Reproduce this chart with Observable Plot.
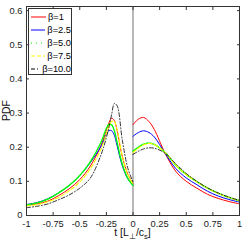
<!DOCTYPE html>
<html>
<head>
<meta charset="utf-8">
<script src="https://cdn.jsdelivr.net/npm/d3@7"></script>
<script src="https://cdn.jsdelivr.net/npm/@observablehq/plot@0.6"></script>
<style>
  html, body { margin: 0; padding: 0; background: #fff; }
  #wrap { position: relative; width: 245px; height: 245px; font-family: "Liberation Sans", Arial, sans-serif; }
  #legend { position: absolute; left: 28px; top: 8px; width: 44px; height: 67px; border: 1px solid #333; background: #fff; box-sizing: border-box; font-size: 9.3px; padding-top: 2px; }
  .row { display: flex; align-items: center; height: 12.8px; }
  .row svg { margin-left: 2px; margin-right: 2px; }
</style>
</head>
<body>
<div id="wrap"><div id="legend"></div></div>
<script>
const series = ["β=1", "β=2.5", "β=5.0", "β=7.5", "β=10.0"];
const colors = ["#ff0000", "#0000ff", "#00ff00", "#ffff00", "#000000"];
const dashes = ["none", "none", "1.5,0.8", "4,2", "4,2,1,2"];
const legendDashes = ["none", "none", "1,4", "4,2", "4,2,1,2"];

const tLeft = [-1, -0.9, -0.8, -0.7, -0.6, -0.5, -0.4, -0.3, -0.25, -0.225, -0.2, -0.175, -0.15, -0.1, -0.05, 0];
const leftB1   = [0.030, 0.034, 0.042, 0.058, 0.078, 0.105, 0.145, 0.205, 0.250, 0.272, 0.285, 0.278, 0.250, 0.172, 0.122, 0.093];
const leftB25  = [0.032, 0.038, 0.049, 0.066, 0.088, 0.117, 0.155, 0.203, 0.238, 0.249, 0.248, 0.235, 0.205, 0.145, 0.108, 0.088];
const leftB5   = [0.031, 0.037, 0.048, 0.066, 0.088, 0.117, 0.158, 0.215, 0.255, 0.267, 0.265, 0.248, 0.215, 0.150, 0.110, 0.088];
const leftB75  = [0.028, 0.032, 0.040, 0.053, 0.072, 0.098, 0.137, 0.195, 0.238, 0.260, 0.276, 0.275, 0.252, 0.175, 0.122, 0.092];
const leftB10  = [0.023, 0.027, 0.034, 0.046, 0.060, 0.080, 0.110, 0.178, 0.228, 0.260, 0.297, 0.328, 0.322, 0.220, 0.140, 0.098];

const tRight = [0, 0.05, 0.1, 0.15, 0.2, 0.3, 0.4, 0.5, 0.6, 0.7, 0.8, 0.9, 1];
const rightB1  = [0.266, 0.282, 0.287, 0.275, 0.252, 0.183, 0.130, 0.100, 0.080, 0.062, 0.050, 0.041, 0.034];
const rightB25 = [0.232, 0.243, 0.248, 0.243, 0.230, 0.183, 0.138, 0.110, 0.090, 0.071, 0.057, 0.047, 0.039];
const rightB5  = [0.188, 0.200, 0.209, 0.212, 0.208, 0.185, 0.148, 0.120, 0.099, 0.080, 0.065, 0.053, 0.043];
const rightB75 = [0.184, 0.197, 0.207, 0.211, 0.208, 0.185, 0.148, 0.120, 0.099, 0.080, 0.065, 0.053, 0.043];
const rightB10 = [0.179, 0.188, 0.195, 0.198, 0.197, 0.183, 0.152, 0.123, 0.100, 0.081, 0.066, 0.054, 0.044];

const xTicks = [-1, -0.75, -0.5, -0.25, 0, 0.25, 0.5, 0.75, 1];
const yTicks = [0, 0.1, 0.2, 0.3, 0.4, 0.5, 0.6];

const lefts = [leftB1, leftB25, leftB5, leftB75, leftB10];
const rights = [rightB1, rightB25, rightB5, rightB75, rightB10];
const widths = [1, 1, 1.4, 1.1, 0.8];

const rows = [];
series.forEach((s, i) => {
  tLeft.forEach((t, j) => rows.push({series: s, side: "L", t, v: lefts[i][j]}));
  tRight.forEach((t, j) => rows.push({series: s, side: "R", t, v: rights[i][j]}));
});

const marks = [Plot.ruleX([0], {stroke: "#888", strokeWidth: 1.2})];
series.forEach((s, i) => {
  ["L", "R"].forEach(side => {
    marks.push(Plot.line(rows.filter(d => d.series === s && d.side === side), {
      x: "t", y: "v", stroke: colors[i], strokeWidth: widths[i],
      strokeDasharray: dashes[i], curve: "catmull-rom"
    }));
  });
});

const chart = Plot.plot({
  width: 245, height: 245,
  marginLeft: 26, marginRight: 6, marginTop: 6, marginBottom: 30,
  style: {fontFamily: "Liberation Sans, Arial, sans-serif", fontSize: "9.3px", background: "#fff", color: "#222"},
  x: {domain: [-1, 1]},
  y: {domain: [0, 0.612]},
  marks: [
    ...marks,
    Plot.frame({stroke: "#333"}),
    Plot.axisX(xTicks, {anchor: "bottom", tickSize: -3, tickPadding: 8, tickFormat: d => String(d), label: null, stroke: "#333"}),
    Plot.axisX(xTicks, {anchor: "top", tickSize: -3, tickFormat: () => "", label: null, stroke: "#333"}),
    Plot.axisY(yTicks, {anchor: "left", tickSize: -3, tickPadding: 7, tickFormat: d => String(d), label: null, stroke: "#333"}),
    Plot.axisY(yTicks, {anchor: "right", tickSize: -3, tickFormat: () => "", label: null, stroke: "#333"})
  ]
});

const svg = d3.select(chart);
const xl = svg.append("text").attr("x", 132.5).attr("y", 236).attr("text-anchor", "middle")
  .attr("font-size", "10.5px").attr("fill", "#111");
xl.append("tspan").text("t [L");
xl.append("tspan").attr("dy", 3).attr("font-size", "7.5px").text("⊥");
xl.append("tspan").attr("dy", -3).text("/c");
xl.append("tspan").attr("dy", 3).attr("font-size", "7.5px").text("s");
xl.append("tspan").attr("dy", -3).text("]");
svg.append("text").attr("transform", "translate(10,110.5) rotate(-90)").attr("text-anchor", "middle")
  .attr("font-size", "10.5px").attr("fill", "#111").text("PDF");

document.getElementById("wrap").prepend(chart);
chart.style.position = "absolute"; chart.style.left = "0"; chart.style.top = "0";

const legend = document.getElementById("legend");
series.forEach((s, i) => {
  const row = document.createElement("div");
  row.className = "row";
  row.innerHTML = `<svg width="15" height="6"><line x1="0" x2="15" y1="3" y2="3" stroke="${colors[i]}" stroke-width="1" stroke-dasharray="${legendDashes[i]}"/></svg><span>${s}</span>`;
  legend.appendChild(row);
});
</script>
</body>
</html>
